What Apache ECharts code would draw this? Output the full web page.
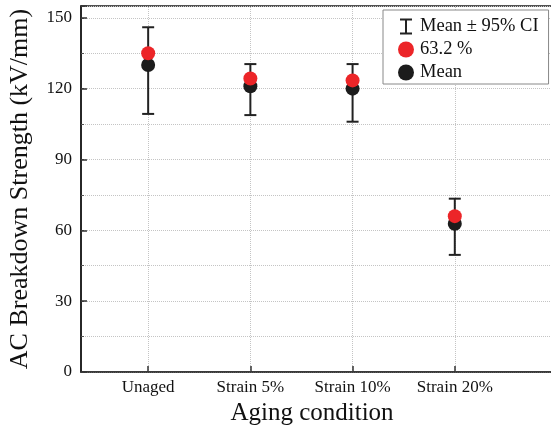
<!DOCTYPE html>
<html>
<head>
<meta charset="utf-8">
<script src="https://cdn.jsdelivr.net/npm/echarts@6/dist/echarts.min.js"></script>
<style>html,body{margin:0;padding:0;background:#fff;}#c{width:551px;height:430px;}</style>
</head>
<body>
<div id="c"></div>
<script>
var categories = ['Unaged', 'Strain 5%', 'Strain 10%', 'Strain 20%'];
var meanValues = [130, 121, 120, 62.8];
var p632Values = [135, 124.3, 123.5, 66];
var ciLow = [109.3, 108.8, 106, 49.6];
var ciHigh = [146, 130.4, 130.4, 73.4];
var yTicks = [0, 30, 60, 90, 120, 150];

var FONT = '"Liberation Serif", "Times New Roman", serif';
var chart = echarts.init(document.getElementById('c'));

var catPos = categories.map(function (c, i) { return i + 1; });

var option = {
  backgroundColor: '#fff',
  animation: false,
  grid: {
    left: 81, top: 6, width: 476, bottom: 58,
    outerBoundsMode: 'none', containLabel: false,
    show: true, borderColor: '#1a1a1a', borderWidth: 1.5, backgroundColor: 'transparent'
  },
  legend: {
    left: 383, top: 10, orient: 'vertical',
    selectedMode: false,
    backgroundColor: '#fff', borderColor: '#888', borderWidth: 1,
    padding: [7, 10, 2, 15],
    itemWidth: 18, itemHeight: 16, itemGap: 4,
    textStyle: { fontFamily: FONT, fontSize: 18.5, color: '#111' },
    data: [
      { name: 'Mean \u00b1 95% CI', icon: 'path://M0,0H12V2H7V14H12V16H0V14H5V2H0Z', itemStyle: { color: '#222', borderWidth: 0 } },
      { name: '63.2 %', icon: 'circle' },
      { name: 'Mean', icon: 'circle' }
    ]
  },
  xAxis: {
    type: 'value', min: 0.343, max: 5,
    name: 'Aging condition', nameLocation: 'middle', nameGap: 29,
    nameTextStyle: { fontFamily: FONT, fontSize: 25, color: '#111', padding: [0, 14, 0, 0] },
    axisLine: { show: true, lineStyle: { color: '#333', width: 1.5 } },
    axisTick: { show: true, inside: true, length: 6, customValues: catPos, lineStyle: { color: '#333', width: 1.5 } },
    axisLabel: {
      customValues: catPos, margin: 7,
      fontFamily: FONT, fontSize: 17, color: '#111',
      formatter: function (v) { return categories[Math.round(v) - 1] || ''; }
    },
    splitLine: { show: false }
  },
  yAxis: [
    {
      type: 'value', min: 0, max: 155, interval: 15,
      name: 'AC Breakdown Strength (kV/mm)', nameLocation: 'middle', nameGap: 48,
      nameTextStyle: { fontFamily: FONT, fontSize: 26, color: '#111' },
      axisLine: { show: true, lineStyle: { color: '#1a1a1a', width: 1.5 } },
      axisTick: { show: true, inside: true, length: 3, lineStyle: { color: '#555', width: 1 } },
      axisLabel: { show: false },
      splitLine: { show: true, lineStyle: { type: 'dotted', color: '#c4c4c4', width: 1 } }
    },
    {
      type: 'value', min: 0, max: 155, interval: 30, position: 'left',
      axisLine: { show: false },
      axisTick: { show: true, inside: true, length: 6, lineStyle: { color: '#333', width: 1.5 } },
      axisLabel: {
        margin: 9, fontFamily: FONT, fontSize: 17, color: '#111',
        formatter: function (v) { return yTicks.indexOf(v) >= 0 ? String(v) : ''; }
      },
      splitLine: { show: false }
    }
  ],
  series: [
    {
      name: '_grid', type: 'scatter', data: [], z: 1, silent: true,
      markLine: {
        silent: true, symbol: 'none', label: { show: false }, z: 0,
        lineStyle: { type: 'dotted', color: '#c4c4c4', width: 1 },
        emphasis: { disabled: true },
        data: catPos.map(function (p) { return { xAxis: p }; })
      }
    },
    {
      name: 'Mean \u00b1 95% CI', type: 'custom', z: 3,
      itemStyle: { color: '#222' },
      data: categories.map(function (c, i) { return [i + 1, ciLow[i], ciHigh[i]]; }),
      renderItem: function (params, api) {
        var x = api.value(0);
        var pHi = api.coord([x, api.value(2)]);
        var pLo = api.coord([x, api.value(1)]);
        var hw = 6;
        var st = { stroke: '#222', lineWidth: 2 };
        return {
          type: 'group',
          children: [
            { type: 'line', shape: { x1: pHi[0], y1: pHi[1], x2: pLo[0], y2: pLo[1] }, style: st },
            { type: 'line', shape: { x1: pHi[0] - hw, y1: pHi[1], x2: pHi[0] + hw, y2: pHi[1] }, style: st },
            { type: 'line', shape: { x1: pLo[0] - hw, y1: pLo[1], x2: pLo[0] + hw, y2: pLo[1] }, style: st }
          ]
        };
      }
    },
    {
      name: 'Mean', type: 'scatter', z: 4, symbol: 'circle', symbolSize: 14,
      itemStyle: { color: '#1c1c1c', opacity: 1 },
      data: meanValues.map(function (v, i) { return [i + 1, v]; })
    },
    {
      name: '63.2 %', type: 'scatter', z: 5, symbol: 'circle', symbolSize: 14,
      itemStyle: { color: '#ec2528', opacity: 1 },
      data: p632Values.map(function (v, i) { return [i + 1, v]; })
    }
  ]
};
chart.setOption(option);
</script>
</body>
</html>
